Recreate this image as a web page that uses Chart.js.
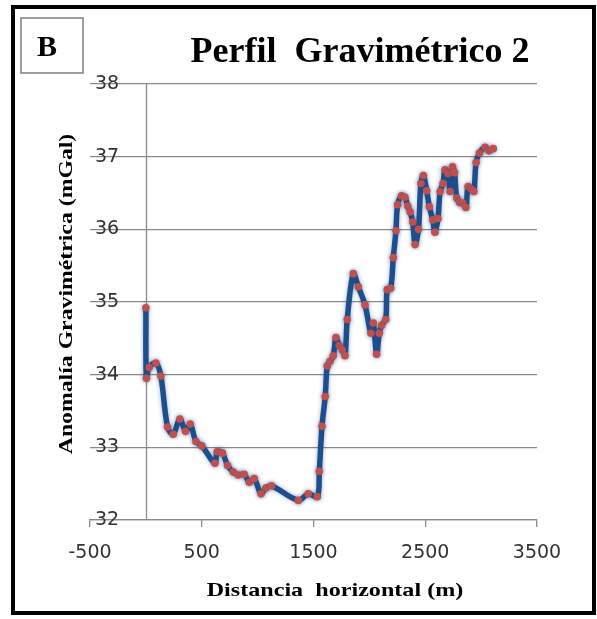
<!DOCTYPE html>
<html>
<head>
<meta charset="utf-8">
<script src="https://cdn.jsdelivr.net/npm/chart.js@4.4.1/dist/chart.umd.min.js"></script>
<style>
  html, body { margin: 0; padding: 0; background: #fff; }
</style>
</head>
<body>
<canvas id="perfil" width="597" height="619"></canvas>
<script>
// ---- datos ----
const distancia = [0, 5, 30, 90, 134, 194, 245, 304, 355, 397, 448, 501, 618, 638, 686, 731, 782, 826, 880, 925,
  970, 1030, 1074, 1125, 1364, 1453, 1534, 1552, 1576, 1605, 1623, 1647, 1677, 1701, 1731, 1758, 1782, 1802, 1856, 1901,
  1961, 2014, 2035, 2065, 2089, 2110, 2146, 2160, 2191, 2214, 2238, 2253, 2287, 2319, 2343, 2365, 2388, 2409, 2439, 2461,
  2483, 2513, 2537, 2567, 2587, 2614, 2633, 2659, 2677, 2704, 2722, 2744, 2762, 2782, 2808, 2836, 2864, 2883, 2913, 2935,
  2955, 2985, 3035, 3070, 3109];
const anomalia = [34.92, 33.95, 34.10, 34.16, 33.98, 33.28, 33.18, 33.39, 33.22, 33.32, 33.08, 33.02, 32.78, 32.94, 32.92, 32.75, 32.66, 32.62, 32.63, 32.52,
  32.57, 32.36, 32.44, 32.47, 32.27, 32.36, 32.32, 32.67, 33.29, 33.70, 34.12, 34.18, 34.26, 34.51, 34.40, 34.34, 34.26, 34.76, 35.39, 35.21,
  34.96, 34.57, 34.71, 34.28, 34.57, 34.68, 34.76, 35.17, 35.19, 35.61, 35.98, 36.34, 36.46, 36.44, 36.32, 36.24, 36.10, 35.79, 36.00, 36.63,
  36.74, 36.53, 36.31, 36.13, 35.96, 36.15, 36.52, 36.63, 36.82, 36.77, 36.52, 36.86, 36.78, 36.43, 36.37, 36.36, 36.30, 36.59, 36.55, 36.52,
  36.92, 37.05, 37.13, 37.08, 37.11];

const xTicks = [-500, 500, 1500, 2500, 3500];
const yTicks = [32, 33, 34, 35, 36, 37, 38];

const panelLabel = 'B';
const chartTitle = 'Perfil  Gravimétrico 2';
const xTitle = 'Distancia  horizontal (m)';
const yTitle = 'Anomalía Gravimétrica (mGal)';

const GRID = '#8a8a8a';
const SERIF = '"Liberation Serif", "Times New Roman", serif';

function wideText(ctx, text, x, y, rot, sx) {
  ctx.save();
  ctx.translate(x, y);
  ctx.rotate(rot);
  ctx.scale(sx, 1);
  ctx.fillText(text, 0, 0);
  ctx.restore();
}

const decoracion = {
  id: 'decoracion',
  beforeDraw(chart) {
    const ctx = chart.ctx;
    ctx.save();
    ctx.fillStyle = '#fff';
    ctx.fillRect(0, 0, chart.width, chart.height);
    ctx.restore();
  },
  beforeDatasetsDraw(chart) {
    // eje vertical cruza en x = 0 (como en Excel)
    const { ctx, chartArea, scales } = chart;
    const x0 = Math.round(scales.x.getPixelForValue(0)) + 0.5;
    ctx.save();
    ctx.strokeStyle = GRID;
    ctx.lineWidth = 1.3;
    ctx.beginPath();
    ctx.moveTo(x0, chartArea.top);
    ctx.lineTo(x0, chartArea.bottom);
    ctx.stroke();
    ctx.restore();
  },
  beforeDatasetDraw(chart) {
    chart.ctx.save();
    chart.ctx.shadowColor = 'rgba(31, 78, 140, 0.45)';
    chart.ctx.shadowBlur = 4;
  },
  afterDatasetDraw(chart) {
    chart.ctx.restore();
  },
  afterDraw(chart) {
    const ctx = chart.ctx;
    ctx.save();
    // marco exterior
    ctx.strokeStyle = '#000';
    ctx.lineWidth = 4;
    ctx.strokeRect(13, 7, 581, 606);
    // recuadro "B"
    ctx.strokeStyle = '#7f7f7f';
    ctx.lineWidth = 1.5;
    ctx.strokeRect(21, 18, 62, 55);
    ctx.fillStyle = '#000';
    ctx.textBaseline = 'alphabetic';
    ctx.textAlign = 'center';
    ctx.font = 'bold 30px ' + SERIF;
    ctx.fillText(panelLabel, 47, 56);
    // titulo
    ctx.font = 'bold 36px ' + SERIF;
    ctx.fillText(chartTitle, 360, 62);
    // titulos de ejes
    ctx.textBaseline = 'middle';
    ctx.font = 'bold 19px ' + SERIF;
    wideText(ctx, xTitle, 335, 591, 0, 1.27);
    wideText(ctx, yTitle, 67, 294, -Math.PI / 2, 1.25);
    ctx.restore();
  }
};

new Chart(document.getElementById('perfil'), {
  type: 'scatter',
  data: {
    datasets: [{
      label: 'Perfil 2',
      data: distancia.map((d, i) => ({ x: d, y: anomalia[i] })),
      showLine: true,
      borderColor: '#1f4e8c',
      borderWidth: 5.5,
      tension: 0.35,
      pointRadius: 3.8,
      pointHoverRadius: 3.8,
      pointBackgroundColor: '#c0504d',
      pointBorderWidth: 0
    }]
  },
  options: {
    responsive: false,
    animation: false,
    layout: { padding: { left: 90, top: 84, right: 60, bottom: 0 } },
    plugins: {
      legend: { display: false },
      title: { display: false },
      tooltip: { enabled: false }
    },
    scales: {
      x: {
        type: 'linear',
        min: xTicks[0],
        max: xTicks[xTicks.length - 1],
        afterBuildTicks: s => { s.ticks = xTicks.map(v => ({ value: v })); },
        afterFit: s => { s.height = 99; },
        grid: { drawOnChartArea: false, drawTicks: true, tickLength: 7, color: GRID, lineWidth: 1.3 },
        border: { display: true, color: GRID, width: 1.3 },
        ticks: {
          padding: 15,
          maxRotation: 0,
          color: '#333',
          callback: v => String(v),
          font: { family: '"DejaVu Sans", sans-serif', size: 19 }
        }
      },
      y: {
        type: 'linear',
        min: yTicks[0],
        max: yTicks[yTicks.length - 1],
        afterBuildTicks: s => { s.ticks = yTicks.map(v => ({ value: v })); },
        afterFit: s => { s.width = 0; },
        grid: { drawTicks: false, color: GRID, lineWidth: 1.3 },
        border: { display: false },
        ticks: {
          mirror: true,
          padding: 5,
          color: '#333',
          callback: v => String(v),
          font: { family: '"DejaVu Sans", sans-serif', size: 19 }
        }
      }
    }
  },
  plugins: [decoracion]
});
</script>
</body>
</html>
